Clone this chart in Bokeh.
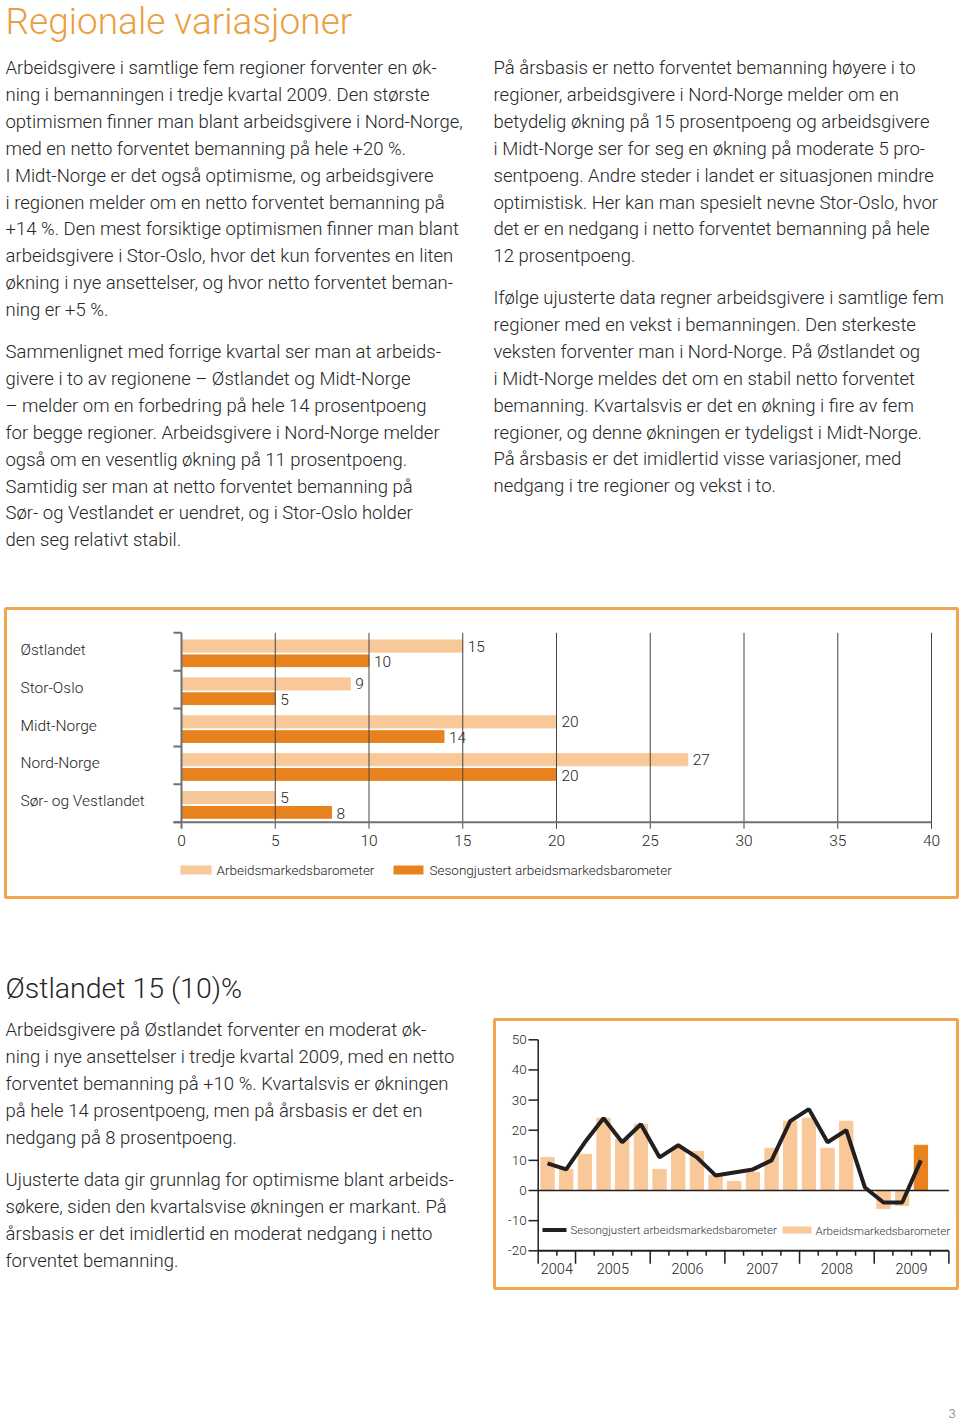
from bokeh.plotting import figure
from bokeh.models import Range1d, ColumnDataSource
from bokeh.core.properties import value
from bokeh.embed import file_html
from bokeh.resources import INLINE

# ---------------- data ----------------
regions = ["Østlandet", "Stor-Oslo", "Midt-Norge", "Nord-Norge", "Sør- og Vestlandet"]
barometer_region = [15, 9, 20, 27, 5]
seasonal_region = [10, 5, 14, 20, 8]
region_ticks = [0, 5, 10, 15, 20, 25, 30, 35, 40]
series_names = ["Arbeidsmarkedsbarometer", "Sesongjustert arbeidsmarkedsbarometer"]

ost_years = [2004, 2005, 2006, 2007, 2008, 2009]
ost_first_quarter = 3  # series starts 2004 Q3
ost_barometer = [11, 7, 12, 24, 17, 22, 7, 14, 13, 5, 3, 6, 14, 23, 24, 14, 23, 0, -6, -5, 15]
ost_seasonal = [9, 7, 16, 24, 16, 22, 11, 15, 11, 5, 6, 7, 10, 23, 27, 16, 20, 1, -4, -4, 10]
ost_value_ticks = [-20, -10, 0, 10, 20, 30, 40, 50]

title = "Regionale variasjoner"
left_p1 = [
    "Arbeidsgivere i samtlige fem regioner forventer en øk-",
    "ning i bemanningen i tredje kvartal 2009. Den største",
    "optimismen finner man blant arbeidsgivere i Nord-Norge,",
    "med en netto forventet bemanning på hele +20 %.",
    "I Midt-Norge er det også optimisme, og arbeidsgivere",
    "i regionen melder om en netto forventet bemanning på",
    "+14 %. Den mest forsiktige optimismen finner man blant",
    "arbeidsgivere i Stor-Oslo, hvor det kun forventes en liten",
    "økning i nye ansettelser, og hvor netto forventet beman-",
    "ning er +5 %.",
]
left_p2 = [
    "Sammenlignet med forrige kvartal ser man at arbeids-",
    "givere i to av regionene – Østlandet og Midt-Norge",
    "– melder om en forbedring på hele 14 prosentpoeng",
    "for begge regioner. Arbeidsgivere i Nord-Norge melder",
    "også om en vesentlig økning på 11 prosentpoeng.",
    "Samtidig ser man at netto forventet bemanning på",
    "Sør- og Vestlandet er uendret, og i Stor-Oslo holder",
    "den seg relativt stabil.",
]
right_p1 = [
    "På årsbasis er netto forventet bemanning høyere i to",
    "regioner, arbeidsgivere i Nord-Norge melder om en",
    "betydelig økning på 15 prosentpoeng og arbeidsgivere",
    "i Midt-Norge ser for seg en økning på moderate 5 pro-",
    "sentpoeng. Andre steder i landet er situasjonen mindre",
    "optimistisk. Her kan man spesielt nevne Stor-Oslo, hvor",
    "det er en nedgang i netto forventet bemanning på hele",
    "12 prosentpoeng.",
]
right_p2 = [
    "Ifølge ujusterte data regner arbeidsgivere i samtlige fem",
    "regioner med en vekst i bemanningen. Den sterkeste",
    "veksten forventer man i Nord-Norge. På Østlandet og",
    "i Midt-Norge meldes det om en stabil netto forventet",
    "bemanning. Kvartalsvis er det en økning i fire av fem",
    "regioner, og denne økningen er tydeligst i Midt-Norge.",
    "På årsbasis er det imidlertid visse variasjoner, med",
    "nedgang i tre regioner og vekst i to.",
]
sub_title = "Østlandet 15 (10)%"
low_p1 = [
    "Arbeidsgivere på Østlandet forventer en moderat øk-",
    "ning i nye ansettelser i tredje kvartal 2009, med en netto",
    "forventet bemanning på +10 %. Kvartalsvis er økningen",
    "på hele 14 prosentpoeng, men på årsbasis er det en",
    "nedgang på 8 prosentpoeng.",
]
low_p2 = [
    "Ujusterte data gir grunnlag for optimisme blant arbeids-",
    "søkere, siden den kvartalsvise økningen er markant. På",
    "årsbasis er det imidlertid en moderat nedgang i netto",
    "forventet bemanning.",
]
page_number = "3"

# ---------------- styles ----------------
FONT = "Roboto Light"
TITLE_C = "#e9a040"
TEXT_C = "#262626"
LIGHT = "#f8c898"
DARK = "#e8821e"
BORDER = "#f0a64e"
GRID = "#444444"
AXIS = "#707070"
BLACK = "#231f20"

# page coordinate system (reference pixels, 1:1)
X0, X1 = 0, 960
Y0, Y1 = 1421, 0
W, H = 960, 1421


def lin(ref_a, val_a, ref_b, val_b, lo, hi):
    s = (val_b - val_a) / (ref_b - ref_a)
    return Range1d(start=val_a + (lo - ref_a) * s, end=val_a + (hi - ref_a) * s)


p = figure(width=W, height=H, x_range=Range1d(X0, X1), y_range=Range1d(Y0, Y1),
           output_backend="svg", toolbar_location=None, min_border=0,
           x_axis_location=None, y_axis_location=None)
p.grid.visible = False
p.outline_line_color = None
p.background_fill_color = "white"
p.border_fill_color = "white"

# bar-chart geometry
BX0, BX40 = 181.0, 931.0
BAND_TOP, BAND_BOT = 632.3, 821.7
PX_VAL = (BX40 - BX0) / 40.0
PX_CAT = (BAND_BOT - BAND_TOP) / len(regions)
# combo chart geometry
QX0, QX22 = 537.7, 948.4
VY0, VY50 = 1190.0, 1039.3
n_q = (len(ost_years) - 1) * 4 + 2  # 22 quarter slots on axis
PX_Q = (QX22 - QX0) / n_q
PX_V = (VY0 - VY50) / 50.0

p.extra_x_ranges = {"val": lin(BX0, 0, BX40, 40, X0, X1),
                    "q": lin(QX0, 0, QX22, n_q, X0, X1)}
p.extra_y_ranges = {"cat": lin(BAND_TOP, 0, BAND_BOT, len(regions), Y0, Y1),
                    "v": lin(VY0, 0, VY50, 50, Y0, Y1)}


def text_block(lines, x, y0, dy, size, color=TEXT_C, baseline="middle", align="left", font=FONT):
    src = ColumnDataSource(dict(x=[x] * len(lines), y=[y0 + i * dy for i in range(len(lines))], t=lines))
    p.text(x="x", y="y", text="t", source=src, text_font=value(font), text_font_size=size,
           text_color=color, text_baseline=baseline, text_align=align)


LS = 26.9
YB = 0.5
BODY = "18.5px"
text_block([title], 5, 21, 0, "37px", color=TITLE_C)
text_block(left_p1, 5, 67 + YB, LS, BODY)
text_block(left_p2, 5, 351 + YB, LS, BODY)
text_block(right_p1, 493, 67 + YB, LS, BODY)
text_block(right_p2, 493, 297 + YB, LS, BODY)
text_block([sub_title], 5, 988, 0, "28.5px")
text_block(low_p1, 5, 1029 + YB, LS, BODY)
text_block(low_p2, 5, 1179 + YB, LS, BODY)
text_block([page_number], 948, 1413, 0, "13px", color="#777777")

# ---------------- boxes ----------------
p.quad(left=[5, 494], right=[957, 957], top=[608, 1019], bottom=[897, 1288],
       fill_color=None, line_color=BORDER, line_width=3)

# ---------------- horizontal bar chart ----------------
n = len(regions)
light_y = [i + 0.35 for i in range(n)]
dark_y = [i + 0.74 for i in range(n)]
p.hbar(y=light_y, left=0, right=barometer_region, height=0.32, color=LIGHT,
       x_range_name="val", y_range_name="cat")
p.hbar(y=dark_y, left=0, right=seasonal_region, height=0.31, color=DARK,
       x_range_name="val", y_range_name="cat")

tick_ext = 6.5 / PX_CAT
grid_x = region_ticks[1:]
p.segment(x0=grid_x, y0=[0] * len(grid_x), x1=grid_x, y1=[n + tick_ext] * len(grid_x),
          line_color=GRID, line_width=1, x_range_name="val", y_range_name="cat")
p.segment(x0=[0], y0=[0], x1=[0], y1=[n + tick_ext], line_color=AXIS, line_width=2,
          x_range_name="val", y_range_name="cat")
band_edges = list(range(n + 1))
p.segment(x0=[-8 / PX_VAL] * len(band_edges), y0=band_edges, x1=[0] * len(band_edges), y1=band_edges,
          line_color=AXIS, line_width=2, x_range_name="val", y_range_name="cat")
p.segment(x0=[-8 / PX_VAL], y0=[n], x1=[region_ticks[-1]], y1=[n], line_color=AXIS, line_width=2,
          x_range_name="val", y_range_name="cat")

LBL = "15.5px"
LBL_C = "#1e1e1e"
p.text(x=region_ticks, y=[n + 18.5 / PX_CAT] * len(region_ticks), text=[str(t) for t in region_ticks],
       text_font=value(FONT), text_font_size=LBL, text_color=LBL_C,
       text_align="center", text_baseline="middle", x_range_name="val", y_range_name="cat")
p.text(x=barometer_region, y=light_y, text=[str(v) for v in barometer_region], x_offset=5,
       text_font=value(FONT), text_font_size=LBL, text_color=LBL_C,
       text_baseline="middle", x_range_name="val", y_range_name="cat")
p.text(x=seasonal_region, y=[y + 0.03 for y in dark_y], text=[str(v) for v in seasonal_region], x_offset=5,
       text_font=value(FONT), text_font_size=LBL, text_color=LBL_C,
       text_baseline="middle", x_range_name="val", y_range_name="cat")
p.text(x=[20] * n, y=[i + 0.45 for i in range(n)], text=regions,
       text_font=value(FONT), text_font_size=LBL, text_color=LBL_C,
       text_baseline="middle", y_range_name="cat")

# legend for bar chart
p.quad(left=[180, 393], right=[211, 423], top=[865, 865], bottom=[874, 874],
       fill_color=[LIGHT, DARK], line_color=None)
p.text(x=[216, 429], y=[869, 869], text=series_names, text_font=value(FONT), text_font_size="13.5px",
       text_color="#222222", text_baseline="middle")

# ---------------- Østlandet combo chart ----------------
k = len(ost_barometer)
q_centers = [i + 0.5 for i in range(k)]
bar_colors = [LIGHT] * (k - 1) + [DARK]
p.vbar(x=q_centers, width=13.3 / PX_Q, top=ost_barometer, bottom=0, color=bar_colors,
       x_range_name="q", y_range_name="v")
p.segment(x0=[0], y0=[0], x1=[n_q], y1=[0], line_color=BLACK, line_width=1.5,
          x_range_name="q", y_range_name="v")
vmin, vmax = ost_value_ticks[0], ost_value_ticks[-1]
p.segment(x0=[0], y0=[vmin - 13 / PX_V], x1=[0], y1=[vmax], line_color=BLACK, line_width=1.5,
          x_range_name="q", y_range_name="v")
p.segment(x0=[-9.7 / PX_Q] * len(ost_value_ticks), y0=ost_value_ticks, x1=[0] * len(ost_value_ticks),
          y1=ost_value_ticks, line_color=BLACK, line_width=1.5, x_range_name="q", y_range_name="v")
p.text(x=[-11.5 / PX_Q] * len(ost_value_ticks), y=ost_value_ticks, text=[str(v) for v in ost_value_ticks],
       text_font=value(FONT), text_font_size="13.5px", text_color="#222222",
       text_align="right", text_baseline="middle", x_range_name="q", y_range_name="v")
p.segment(x0=[0], y0=[vmin], x1=[n_q], y1=[vmin], line_color=BLACK, line_width=2,
          x_range_name="q", y_range_name="v")
offset = ost_first_quarter - 1
q_ticks = list(range(1, n_q + 1))
tick_len = [13 if (qt + offset) % 4 == 0 else 5 for qt in q_ticks]
p.segment(x0=q_ticks, y0=[vmin] * len(q_ticks), x1=q_ticks,
          y1=[vmin - L / PX_V for L in tick_len], line_color=BLACK, line_width=1.5,
          x_range_name="q", y_range_name="v")
year_centers = []
for j, yr in enumerate(ost_years):
    a = max(0, j * 4 - offset)
    b = min(n_q, (j + 1) * 4 - offset)
    year_centers.append((a + b) / 2)
p.text(x=year_centers, y=[vmin - 18 / PX_V] * len(ost_years), text=[str(y) for y in ost_years],
       text_font=value(FONT), text_font_size="14.5px", text_color="#222222",
       text_align="center", text_baseline="middle", x_range_name="q", y_range_name="v")
p.line(x=q_centers, y=ost_seasonal, line_color=BLACK, line_width=4,
       x_range_name="q", y_range_name="v")

p.segment(x0=[542], y0=[1229.5], x1=[566], y1=[1229.5], line_color=BLACK, line_width=4)
p.quad(left=[782], right=[811], top=[1226], bottom=[1233], fill_color=LIGHT, line_color=None)
p.text(x=[570, 815], y=[1229.5, 1230], text=[series_names[1], series_names[0]], text_font=value(FONT),
       text_font_size="11.5px", text_color="#333333", text_baseline="middle")

open("out.html", "w").write(file_html(p, INLINE))
